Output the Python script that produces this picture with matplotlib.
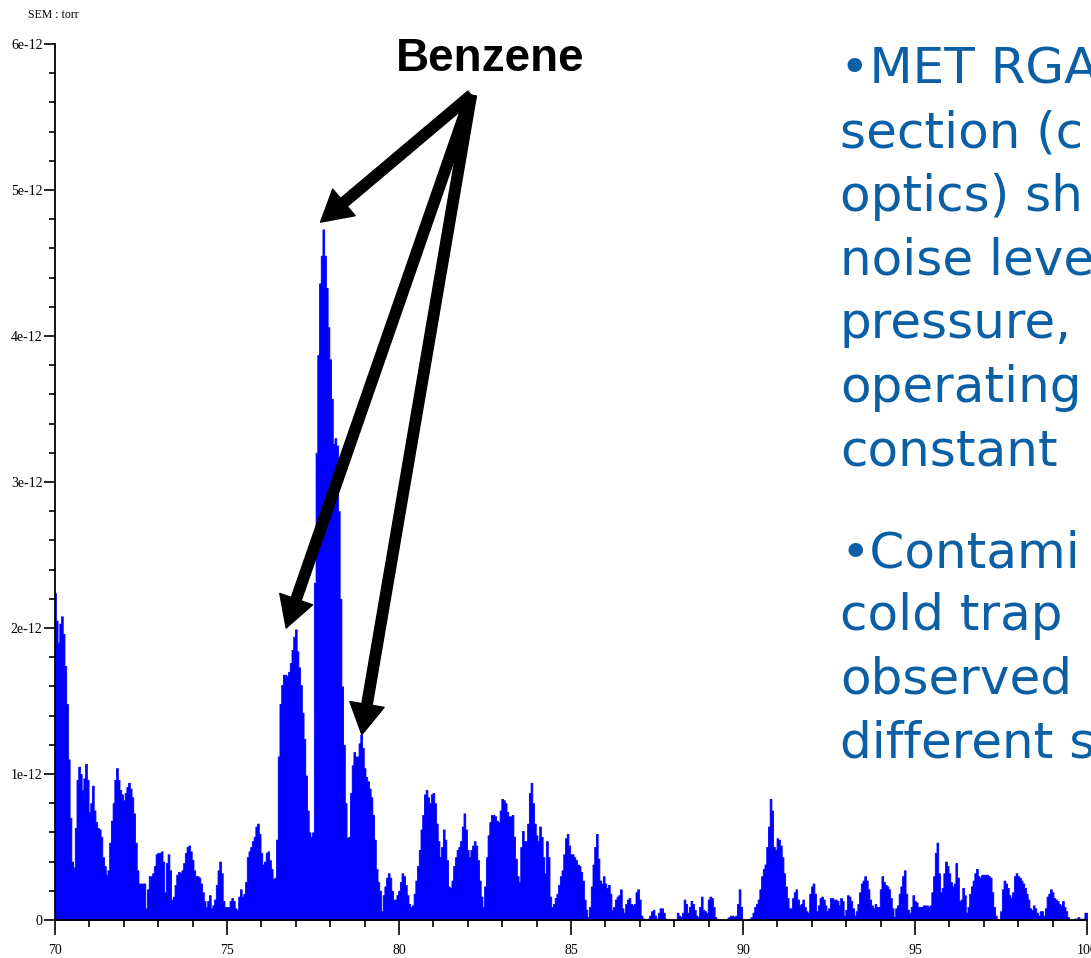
import numpy as np
import matplotlib
matplotlib.use("Agg")
import matplotlib.pyplot as plt
from matplotlib.ticker import FixedLocator, MultipleLocator

# ---- data: SEM partial pressure (units of 1e-12 torr), sampled every 0.05 amu ----
mass_start, mass_step = 70.0, 0.05

seg_70_75 = [2.24, 2.05, 1.90, 2.03, 2.08, 1.96, 1.74, 1.48, 1.10, 0.70,
             0.40, 0.36, 0.63, 0.96, 1.05, 1.00, 0.89, 0.97, 1.07, 0.96,
             0.74, 0.80, 0.92, 0.75, 0.67, 0.63, 0.62, 0.57, 0.43, 0.37,
             0.31, 0.34, 0.53, 0.68, 0.80, 0.96, 1.04, 0.96, 0.89, 0.86,
             0.82, 0.87, 0.91, 0.94, 0.90, 0.84, 0.73, 0.53, 0.34, 0.25,
             0.25, 0.25, 0.25, 0.08, 0.21, 0.30, 0.30, 0.32, 0.37, 0.45,
             0.46, 0.46, 0.47, 0.40, 0.19, 0.39, 0.45, 0.34, 0.14, 0.16,
             0.24, 0.31, 0.33, 0.32, 0.34, 0.39, 0.46, 0.50, 0.51, 0.47,
             0.41, 0.34, 0.30, 0.30, 0.29, 0.25, 0.19, 0.13, 0.09, 0.13,
             0.17, 0.08, 0.10, 0.14, 0.24, 0.34, 0.40, 0.32, 0.13, 0.09]

seg_75_80 = [0.09, 0.09, 0.13, 0.15, 0.13, 0.08, 0.07, 0.16, 0.21, 0.16,
             0.18, 0.26, 0.43, 0.47, 0.50, 0.54, 0.57, 0.64, 0.66, 0.59,
             0.46, 0.38, 0.40, 0.46, 0.47, 0.41, 0.35, 0.28, 0.29, 0.55,
             1.12, 1.48, 1.61, 1.68, 1.68, 1.67, 1.70, 1.76, 1.85, 1.94,
             1.99, 1.84, 1.73, 1.61, 1.42, 1.24, 0.99, 0.75, 0.60, 0.57,
             0.60, 2.31, 3.20, 3.87, 4.36, 4.55, 4.73, 4.55, 4.33, 4.06,
             3.84, 3.57, 3.26, 3.30, 3.25, 2.80, 2.20, 1.60, 1.20, 0.80,
             0.56, 0.57, 0.87, 1.06, 1.15, 1.12, 1.12, 1.21, 1.27, 1.18,
             1.04, 0.98, 0.95, 0.90, 0.84, 0.72, 0.55, 0.35, 0.26, 0.20,
             0.06, 0.17, 0.23, 0.29, 0.32, 0.29, 0.20, 0.14, 0.14, 0.17]

seg_80_85 = [0.20, 0.26, 0.32, 0.30, 0.24, 0.17, 0.11, 0.09, 0.10, 0.18,
             0.27, 0.37, 0.48, 0.62, 0.72, 0.86, 0.89, 0.84, 0.80, 0.86,
             0.87, 0.80, 0.66, 0.54, 0.43, 0.50, 0.62, 0.55, 0.41, 0.23,
             0.22, 0.27, 0.37, 0.43, 0.48, 0.50, 0.54, 0.64, 0.73, 0.62,
             0.48, 0.43, 0.48, 0.51, 0.54, 0.51, 0.41, 0.27, 0.16, 0.09,
             0.23, 0.43, 0.58, 0.67, 0.72, 0.72, 0.71, 0.68, 0.67, 0.75,
             0.83, 0.82, 0.80, 0.74, 0.71, 0.71, 0.72, 0.57, 0.42, 0.30,
             0.26, 0.50, 0.61, 0.54, 0.54, 0.66, 0.87, 0.94, 0.80, 0.66,
             0.58, 0.54, 0.64, 0.57, 0.43, 0.32, 0.54, 0.43, 0.16, 0.09,
             0.11, 0.15, 0.18, 0.24, 0.30, 0.34, 0.45, 0.56, 0.59, 0.51]

seg_85_90 = [0.45, 0.45, 0.43, 0.41, 0.38, 0.37, 0.33, 0.27, 0.14, 0.07,
             0.02, 0.09, 0.23, 0.38, 0.50, 0.59, 0.42, 0.27, 0.25, 0.30,
             0.25, 0.22, 0.24, 0.18, 0.07, 0.09, 0.14, 0.16, 0.17, 0.21,
             0.08, 0.05, 0.11, 0.14, 0.15, 0.11, 0.10, 0.11, 0.19, 0.21,
             0.14, 0.03, 0.01, 0.00, 0.00, 0.01, 0.03, 0.06, 0.07, 0.03,
             0.01, 0.05, 0.08, 0.08, 0.05, 0.01, 0.00, 0.00, 0.00, 0.00,
             0.00, 0.00, 0.05, 0.03, 0.02, 0.05, 0.14, 0.11, 0.05, 0.09,
             0.13, 0.11, 0.07, 0.03, 0.02, 0.09, 0.16, 0.07, 0.06, 0.05,
             0.14, 0.16, 0.15, 0.09, 0.02, 0.00, 0.00, 0.00, 0.00, 0.00,
             0.00, 0.01, 0.02, 0.03, 0.03, 0.02, 0.03, 0.11, 0.21, 0.09]

seg_90_95 = [0.00, 0.00, 0.00, 0.00, 0.01, 0.02, 0.05, 0.09, 0.11, 0.14,
             0.21, 0.30, 0.35, 0.38, 0.50, 0.64, 0.83, 0.75, 0.50, 0.48,
             0.56, 0.55, 0.51, 0.43, 0.32, 0.23, 0.15, 0.08, 0.08, 0.15,
             0.19, 0.21, 0.14, 0.10, 0.11, 0.14, 0.09, 0.06, 0.05, 0.18,
             0.23, 0.25, 0.18, 0.06, 0.10, 0.15, 0.16, 0.14, 0.10, 0.06,
             0.08, 0.15, 0.15, 0.14, 0.14, 0.13, 0.10, 0.15, 0.13, 0.03,
             0.07, 0.17, 0.16, 0.13, 0.08, 0.03, 0.06, 0.11, 0.19, 0.25,
             0.27, 0.30, 0.27, 0.21, 0.14, 0.10, 0.08, 0.11, 0.09, 0.09,
             0.21, 0.30, 0.26, 0.24, 0.23, 0.21, 0.15, 0.08, 0.02, 0.08,
             0.10, 0.18, 0.23, 0.30, 0.34, 0.18, 0.07, 0.05, 0.09, 0.17]

seg_95_100 = [0.13, 0.12, 0.09, 0.09, 0.09, 0.10, 0.10, 0.10, 0.09, 0.10,
              0.19, 0.30, 0.46, 0.53, 0.32, 0.19, 0.22, 0.32, 0.40, 0.37,
              0.32, 0.26, 0.23, 0.25, 0.39, 0.29, 0.13, 0.14, 0.22, 0.17,
              0.05, 0.09, 0.18, 0.23, 0.27, 0.32, 0.35, 0.30, 0.29, 0.31,
              0.31, 0.31, 0.31, 0.30, 0.29, 0.19, 0.09, 0.03, 0.00, 0.00,
              0.06, 0.21, 0.27, 0.25, 0.22, 0.17, 0.15, 0.19, 0.30, 0.32,
              0.30, 0.29, 0.27, 0.25, 0.22, 0.18, 0.14, 0.08, 0.07, 0.10,
              0.08, 0.05, 0.03, 0.06, 0.06, 0.03, 0.08, 0.16, 0.18, 0.21,
              0.19, 0.15, 0.14, 0.13, 0.11, 0.10, 0.13, 0.09, 0.06, 0.02,
              0.00, 0.00, 0.00, 0.01, 0.01, 0.02, 0.01, 0.00, 0.01, 0.05,
              0.05]

x_tick_values = [70, 75, 80, 85, 90, 95, 100]
y_tick_values = [0, 1, 2, 3, 4, 5, 6]
y_tick_labels = ["0", "1e-12", "2e-12", "3e-12", "4e-12", "5e-12", "6e-12"]

# Benzene peaks (m/z, pressure in 1e-12) pointed at by arrows
arrow_tail = (82.1, 5.65)
benzene_tips = [(77.72, 4.78), (76.72, 2.00), (78.92, 1.27)]
benzene_label_pos = (82.65, 5.90)

bullet_lines_1 = ["\u2022MET RGA", "section (c", "optics) sh", "noise leve",
                  "pressure,", "operating", "constant"]
bullet_lines_2 = ["\u2022Contami", "cold trap", "observed", "different s"]

# ---- build series ----
pressure = np.array(seg_70_75 + seg_75_80 + seg_80_85 + seg_85_90
                    + seg_90_95 + seg_95_100)
mass = mass_start + mass_step * np.arange(len(pressure))
scale = 1e-12

W, H = 1091, 958
fig = plt.figure(figsize=(W / 100, H / 100), dpi=100)
fig.patch.set_facecolor("white")

left_px, right_px, top_px, bottom_px = 55, 1087, 44, 920
ax = fig.add_axes([left_px / W, (H - bottom_px) / H,
                   (right_px - left_px) / W, (bottom_px - top_px) / H])

ax.fill_between(mass, pressure * scale, 0, step="mid", facecolor="#0000FF",
                edgecolor="#0000FF", linewidth=0.6)
ax.set_xlim(70, 100)
ax.set_ylim(0, 6e-12)

for s in ("top", "right"):
    ax.spines[s].set_visible(False)
for s in ("left", "bottom"):
    ax.spines[s].set_linewidth(1.3)
    ax.spines[s].set_color("black")

serif = ["Liberation Serif", "DejaVu Serif"]
ax.xaxis.set_major_locator(FixedLocator(x_tick_values))
ax.xaxis.set_minor_locator(MultipleLocator(1))
ax.set_xticklabels([str(v) for v in x_tick_values], fontfamily=serif,
                   fontsize=10)
ax.yaxis.set_major_locator(FixedLocator([v * scale for v in y_tick_values]))
ax.yaxis.set_minor_locator(MultipleLocator(0.2e-12))
ax.set_yticklabels(y_tick_labels, fontfamily=serif, fontsize=10)

ax.tick_params(axis="x", which="major", direction="out", length=11,
               width=1.2, pad=6)
ax.tick_params(axis="x", which="minor", direction="out", length=5, width=1.2)
ax.tick_params(axis="y", which="major", direction="out", length=8,
               width=1.2, pad=1)
ax.tick_params(axis="y", which="minor", direction="out", length=4, width=1.2)

fig.text(53 / W, 1 - 15 / H, "SEM : torr", fontfamily=serif, fontsize=8.5,
         ha="center", va="center")

# arrows
for tip in benzene_tips:
    ax.annotate("", xy=(tip[0], tip[1] * scale),
                xytext=(arrow_tail[0], arrow_tail[1] * scale),
                arrowprops=dict(facecolor="black", edgecolor="black",
                                width=7.5, headwidth=25, headlength=22,
                                shrink=0.0),
                annotation_clip=False)

ax.text(benzene_label_pos[0], benzene_label_pos[1] * scale, "Benzene",
        fontfamily=["Liberation Sans", "DejaVu Sans"], fontweight="bold",
        fontsize=33, ha="center", va="center")

# right-hand slide text (clipped by figure edge, as in the original slide)
txt_color = "#0B5FA5"
x_txt = 840 / W
for i, line in enumerate(bullet_lines_1):
    fig.text(x_txt, 1 - (84 + 63.5 * i) / H, line, fontfamily="DejaVu Sans",
             fontsize=36, color=txt_color, ha="left", va="baseline")
for i, line in enumerate(bullet_lines_2):
    fig.text(x_txt, 1 - (567 + 63.5 * i) / H, line, fontfamily="DejaVu Sans",
             fontsize=36, color=txt_color, ha="left", va="baseline")

fig.savefig("out.png", dpi=100, facecolor="white")
